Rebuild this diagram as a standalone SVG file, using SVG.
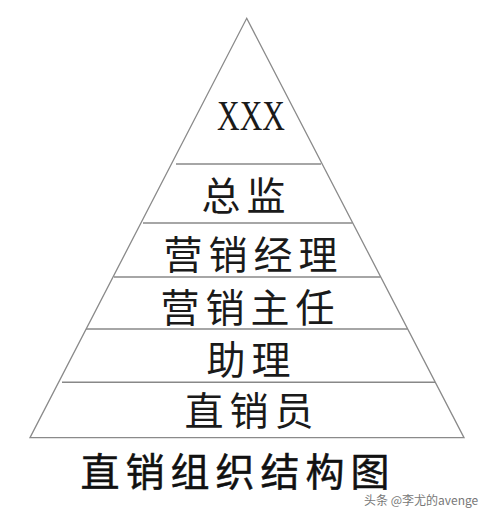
<svg xmlns="http://www.w3.org/2000/svg" width="500" height="513" viewBox="0 0 500 513">
<style>
.edge{stroke:#8a8a8a;stroke-width:1.3;fill:none}
.sep{stroke:#888;stroke-width:1.6}
.lbl{font-family:"Noto Sans CJK SC","Noto Sans",sans-serif;font-size:39px;fill:#1a1a1a;text-anchor:middle;letter-spacing:6px}
.title{font-family:"Noto Sans CJK SC","Noto Sans",sans-serif;font-size:39px;font-weight:400;fill:#111;stroke:#111;stroke-width:0.5;text-anchor:middle;letter-spacing:6px}
.wm{font-family:"Noto Sans CJK SC","Noto Sans",sans-serif;font-size:12px;fill:#777}
</style>
<rect width="500" height="513" fill="#fff"/>
<g id="connectors">
<polygon class="edge" points="246.7,18.3 464,437.7 30,437.7"/>
<line class="sep" x1="176" y1="164" x2="321" y2="164"/>
<line class="sep" x1="143" y1="223" x2="352.5" y2="223"/>
<line class="sep" x1="114" y1="277" x2="380.5" y2="277"/>
<line class="sep" x1="86" y1="329" x2="407.5" y2="329"/>
<line class="sep" x1="62" y1="382.3" x2="435" y2="382.3"/>
</g>
<g id="n_xxx"><text x="251" y="130" font-family="Liberation Serif,serif" font-size="42" fill="#1a1a1a" text-anchor="middle" textLength="68" lengthAdjust="spacingAndGlyphs">XXX</text></g>
<g id="n_zongjian"><text class="lbl" x="246.5" y="210">总监</text></g>
<g id="n_jingli"><text class="lbl" x="253.5" y="269">营销经理</text></g>
<g id="n_zhuren"><text class="lbl" x="250.5" y="322">营销主任</text></g>
<g id="n_zhuli"><text class="lbl" x="251.5" y="374">助理</text></g>
<g id="n_zhixiaoyuan"><text class="lbl" x="252" y="425">直销员</text></g>
<g id="title"><text class="title" x="238" y="486">直销组织结构图</text></g>
<g id="watermark"><text class="wm" x="364" y="505">头条 @李尤的avenge</text></g>
</svg>
